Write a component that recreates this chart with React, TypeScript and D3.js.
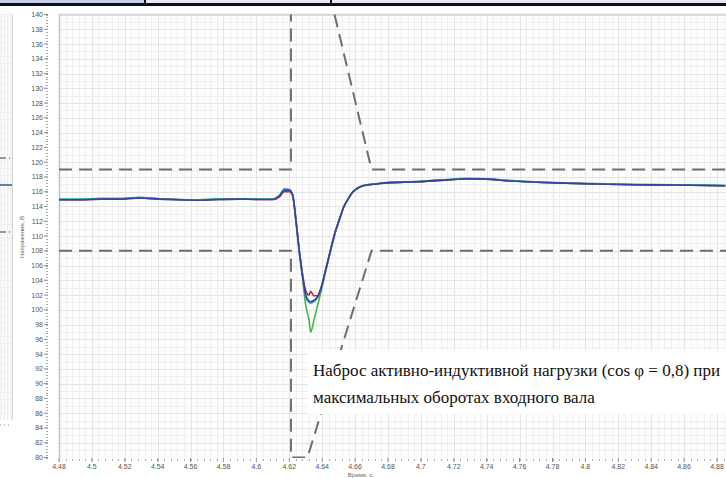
import React, { useEffect, useRef } from "react";
import * as d3 from "d3";

const WIDTH = 726;
const HEIGHT = 478;

// time, s
const times = [4.480, 4.493, 4.505, 4.517, 4.529, 4.541, 4.553, 4.565, 4.577, 4.589, 4.601, 4.610,
  4.614, 4.617, 4.620, 4.622, 4.624, 4.626, 4.628, 4.630, 4.632, 4.633, 4.635, 4.637,
  4.639, 4.642, 4.645, 4.648, 4.651, 4.653, 4.656, 4.658, 4.661, 4.664, 4.667, 4.673,
  4.679, 4.698, 4.716, 4.728, 4.740, 4.752, 4.764, 4.782, 4.806, 4.830, 4.854, 4.885];

// voltage, V (one array per phase trace)
const blueV = [114.9, 114.9, 115.0, 115.0, 115.15, 115.0, 114.9, 114.85, 114.95, 115.0, 114.95, 114.95,
  115.4, 116.2, 116.2, 115.6, 112.2, 108.1, 104.7, 102.0, 101.2, 101.1, 101.3, 101.7,
  102.7, 105.3, 108.0, 110.6, 112.6, 113.9, 115.1, 115.8, 116.4, 116.75, 116.9, 117.05,
  117.2, 117.35, 117.6, 117.75, 117.7, 117.5, 117.35, 117.2, 117.05, 116.95, 116.9, 116.8];
const redV = [114.9, 114.9, 115.0, 115.0, 115.15, 115.0, 114.9, 114.85, 114.95, 115.0, 114.95, 114.95,
  115.3, 116.0, 116.0, 115.5, 112.3, 108.2, 104.9, 102.6, 102.0, 102.5, 101.9, 101.9,
  102.8, 105.4, 108.1, 110.6, 112.6, 113.9, 115.1, 115.8, 116.4, 116.75, 116.9, 117.05,
  117.2, 117.35, 117.6, 117.75, 117.7, 117.5, 117.35, 117.2, 117.05, 116.95, 116.9, 116.8];
const greenV = [114.95, 114.95, 115.05, 115.05, 115.2, 115.05, 114.95, 114.9, 115.0, 115.05, 115.0, 115.0,
  115.5, 116.3, 116.3, 115.6, 112.0, 107.8, 104.3, 100.6, 98.6, 97.0, 98.6, 100.4,
  102.2, 105.1, 107.9, 110.5, 112.5, 113.9, 115.1, 115.8, 116.4, 116.75, 116.9, 117.05,
  117.2, 117.35, 117.6, 117.75, 117.7, 117.5, 117.35, 117.2, 117.05, 116.95, 116.9, 116.8];
const cyanV = [115.0, 115.0, 115.1, 115.1, 115.25, 115.05, 114.95, 114.9, 115.0, 115.05, 115.0, 115.0,
  115.5, 116.4, 116.3, 115.6, 112.2, 108.1, 104.8, 101.7, 101.0, 100.9, 101.1, 101.6,
  102.6, 105.2, 107.9, 110.6, 112.6, 113.9, 115.1, 115.8, 116.45, 116.8, 116.95, 117.1,
  117.25, 117.4, 117.65, 117.8, 117.75, 117.55, 117.4, 117.25, 117.1, 117.0, 116.95, 116.85];

// tolerance band (dashed) corners [t, V]
const upperLeft = [[4.48, 119], [4.621, 119], [4.621, 140]];
const upperRight = [[4.6475, 140], [4.67, 119], [4.92, 119]];
const lowerBand = [[4.48, 108], [4.621, 108], [4.621, 80], [4.631, 80], [4.67, 108], [4.92, 108]];

const yTickLabels = [80, 82, 84, 86, 88, 90, 92, 94, 96, 98, 100, 102, 104, 106, 108, 110,
  112, 114, 116, 118, 120, 122, 124, 126, 128, 130, 132, 134, 136, 138, 140];
const xTickLabels = ["4.48", "4.5", "4.52", "4.54", "4.56", "4.58", "4.6", "4.62", "4.64", "4.66",
  "4.68", "4.7", "4.72", "4.74", "4.76", "4.78", "4.8", "4.82", "4.84", "4.86", "4.88"];

const seriesList = [
  { name: "green", values: greenV, color: "#4cb34a" },
  { name: "red", values: redV, color: "#b0303c" },
  { name: "cyan", values: cyanV, color: "#3aa6bd" },
  { name: "blue", values: blueV, color: "#3b3f9e" },
];

const App = () => {
  const ref = useRef<SVGSVGElement>(null);

  useEffect(() => {
    const svg = d3.select(ref.current);
    svg.selectAll("*").remove();

    const left = 59, top = 14, bottom = 458;
    const x = d3.scaleLinear().domain([4.48, 4.88]).range([left, left + 658]);
    const y = d3.scaleLinear().domain([80, 140]).range([457.5, 14.5]);

    svg.append("rect").attr("width", WIDTH).attr("height", HEIGHT).attr("fill", "#fff");

    // top table strip
    svg.append("rect").attr("x", 0).attr("y", 0).attr("width", 145).attr("height", 4).attr("fill", "#c4cce8");
    svg.append("rect").attr("x", 145).attr("y", 0).attr("width", 581).attr("height", 4).attr("fill", "#e8eaf5");
    svg.append("rect").attr("x", 0).attr("y", 3).attr("width", WIDTH).attr("height", 3).attr("fill", "#111");
    [145, 331].forEach((bx) => {
      svg.append("rect").attr("x", bx - 1).attr("y", 0).attr("width", 2).attr("height", 4).attr("fill", "#111");
    });

    // neighbouring panel on the left edge
    const lp = svg.append("g");
    lp.append("rect").attr("x", 0).attr("y", top).attr("width", 12).attr("height", 406).attr("fill", "#fcfcfc");
    d3.range(1, 12, 3.3).forEach((gx) => {
      lp.append("line").attr("x1", gx).attr("x2", gx).attr("y1", top).attr("y2", 420)
        .attr("stroke", "#ebebeb").attr("stroke-width", 1);
    });
    d3.range(top, 420, 7).forEach((gy) => {
      lp.append("line").attr("x1", 0).attr("x2", 12).attr("y1", gy + 0.5).attr("y2", gy + 0.5)
        .attr("stroke", "#f0f0f0").attr("stroke-width", 1);
    });
    lp.append("line").attr("x1", 12.5).attr("x2", 12.5).attr("y1", top).attr("y2", 420)
      .attr("stroke", "#d4d4d4");
    lp.append("line").attr("x1", 0).attr("x2", 12).attr("y1", 185).attr("y2", 185)
      .attr("stroke", "#3b62a8").attr("stroke-width", 1.6);
    [158, 232].forEach((dy) => {
      lp.append("line").attr("x1", 0).attr("x2", 10).attr("y1", dy).attr("y2", dy)
        .attr("stroke", "#777").attr("stroke-width", 1.6).attr("stroke-dasharray", "6 3");
    });
    lp.append("line").attr("x1", 0).attr("x2", 12).attr("y1", 425).attr("y2", 425)
      .attr("stroke", "#999").attr("stroke-dasharray", "1 3");

    // main plot background + grid
    svg.append("defs").append("clipPath").attr("id", "plotClip")
      .append("rect").attr("x", left).attr("y", top).attr("width", WIDTH - left).attr("height", bottom - top);
    svg.append("rect").attr("x", left).attr("y", top).attr("width", WIDTH - left).attr("height", bottom - top)
      .attr("fill", "#fdfdfd");

    const grid = svg.append("g").attr("clip-path", "url(#plotClip)");
    d3.range(0, 106).forEach((i) => {
      const gx = Math.round(x(4.48 + i * 0.004)) + 0.5;
      grid.append("line").attr("x1", gx).attr("x2", gx).attr("y1", top).attr("y2", bottom)
        .attr("stroke", i % 5 === 0 ? "#e4e4e4" : "#f0f0f0").attr("stroke-width", 1);
    });
    d3.range(0, 61).forEach((i) => {
      const gy = Math.round(y(80 + i)) + 0.5;
      grid.append("line").attr("x1", left).attr("x2", WIDTH).attr("y1", gy).attr("y2", gy)
        .attr("stroke", i % 2 === 0 ? "#e4e4e4" : "#f0f0f0").attr("stroke-width", 1);
    });
    svg.append("line").attr("x1", left + 0.5).attr("x2", left + 0.5).attr("y1", top).attr("y2", bottom)
      .attr("stroke", "#c2c2c2").attr("stroke-width", 1.5);
    svg.append("line").attr("x1", left).attr("x2", WIDTH).attr("y1", top + 0.5).attr("y2", top + 0.5)
      .attr("stroke", "#d4d4d4").attr("stroke-width", 1.5);

    // dashed tolerance band
    const bandLine = d3.line<number[]>().x((d) => x(d[0])).y((d) => y(d[1]));
    const band = svg.append("g").attr("clip-path", "url(#plotClip)");
    [upperLeft, upperRight, lowerBand].forEach((pts) => {
      band.append("path").attr("d", bandLine(pts)).attr("fill", "none")
        .attr("stroke", "#6e6e6e").attr("stroke-width", 2).attr("stroke-dasharray", "13 7");
    });

    // voltage traces
    const traces = svg.append("g").attr("clip-path", "url(#plotClip)");
    seriesList.forEach((s) => {
      const line = d3.line<number>()
        .x((_, i) => x(times[i]))
        .y((d) => y(d))
        .curve(d3.curveMonotoneX);
      traces.append("path").attr("d", line(s.values)).attr("fill", "none")
        .attr("stroke", s.color).attr("stroke-width", 1.6).attr("stroke-linejoin", "round");
    });

    // annotation box
    svg.append("rect").attr("x", 308).attr("y", 350).attr("width", WIDTH - 308).attr("height", 64)
      .attr("fill", "#fff");
    svg.append("text").attr("x", 313).attr("y", 376)
      .attr("font-family", "'Liberation Serif', 'Times New Roman', serif").attr("font-size", 17)
      .attr("fill", "#111")
      .text("Наброс активно-индуктивной нагрузки (cos φ = 0,8) при");
    svg.append("text").attr("x", 313).attr("y", 403)
      .attr("font-family", "'Liberation Serif', 'Times New Roman', serif").attr("font-size", 17)
      .attr("fill", "#111")
      .text("максимальных оборотах входного вала");

    // y axis
    const yAxis = svg.append("g");
    yTickLabels.forEach((v) => {
      yAxis.append("text").attr("x", 43).attr("y", y(v) + 2.5).attr("text-anchor", "end")
        .attr("font-family", "'Liberation Sans', Arial, sans-serif").attr("font-size", 7)
        .attr("fill", "#555").text(v);
      yAxis.append("line").attr("x1", 44).attr("x2", 48).attr("y1", y(v)).attr("y2", y(v))
        .attr("stroke", "#888").attr("stroke-width", 1);
    });
    d3.range(0, 151).forEach((i) => {
      const yy = Math.round(y(80 + i * 0.4)) + 0.5;
      yAxis.append("line").attr("x1", 46).attr("x2", 48).attr("y1", yy).attr("y2", yy)
        .attr("stroke", "#aaa").attr("stroke-width", 1);
    });
    svg.append("text").attr("transform", "translate(24,237) rotate(-90)").attr("text-anchor", "middle")
      .attr("font-family", "'Liberation Sans', Arial, sans-serif").attr("font-size", 6)
      .attr("fill", "#666").text("Напряжение, В");

    // x axis
    const xAxis = svg.append("g");
    xTickLabels.forEach((lbl) => {
      const xx = x(+lbl);
      xAxis.append("text").attr("x", xx).attr("y", 469).attr("text-anchor", "middle")
        .attr("font-family", "'Liberation Sans', Arial, sans-serif").attr("font-size", 7)
        .attr("fill", "#555").text(lbl);
      xAxis.append("line").attr("x1", xx).attr("x2", xx).attr("y1", 458).attr("y2", 462)
        .attr("stroke", "#888").attr("stroke-width", 1);
    });
    d3.range(0, 106).forEach((i) => {
      const xx = Math.round(x(4.48 + i * 0.004)) + 0.5;
      xAxis.append("line").attr("x1", xx).attr("x2", xx).attr("y1", 459).attr("y2", 461)
        .attr("stroke", "#aaa").attr("stroke-width", 1);
    });
    svg.append("text").attr("x", 360).attr("y", 477).attr("text-anchor", "middle")
      .attr("font-family", "'Liberation Sans', Arial, sans-serif").attr("font-size", 6)
      .attr("fill", "#666").text("Время, с");
  }, []);

  return (
    <div style={{ position: "absolute", left: 0, top: 0 }}>
      <svg ref={ref} width={WIDTH} height={HEIGHT} style={{ display: "block" }} />
    </div>
  );
};

export default App;
